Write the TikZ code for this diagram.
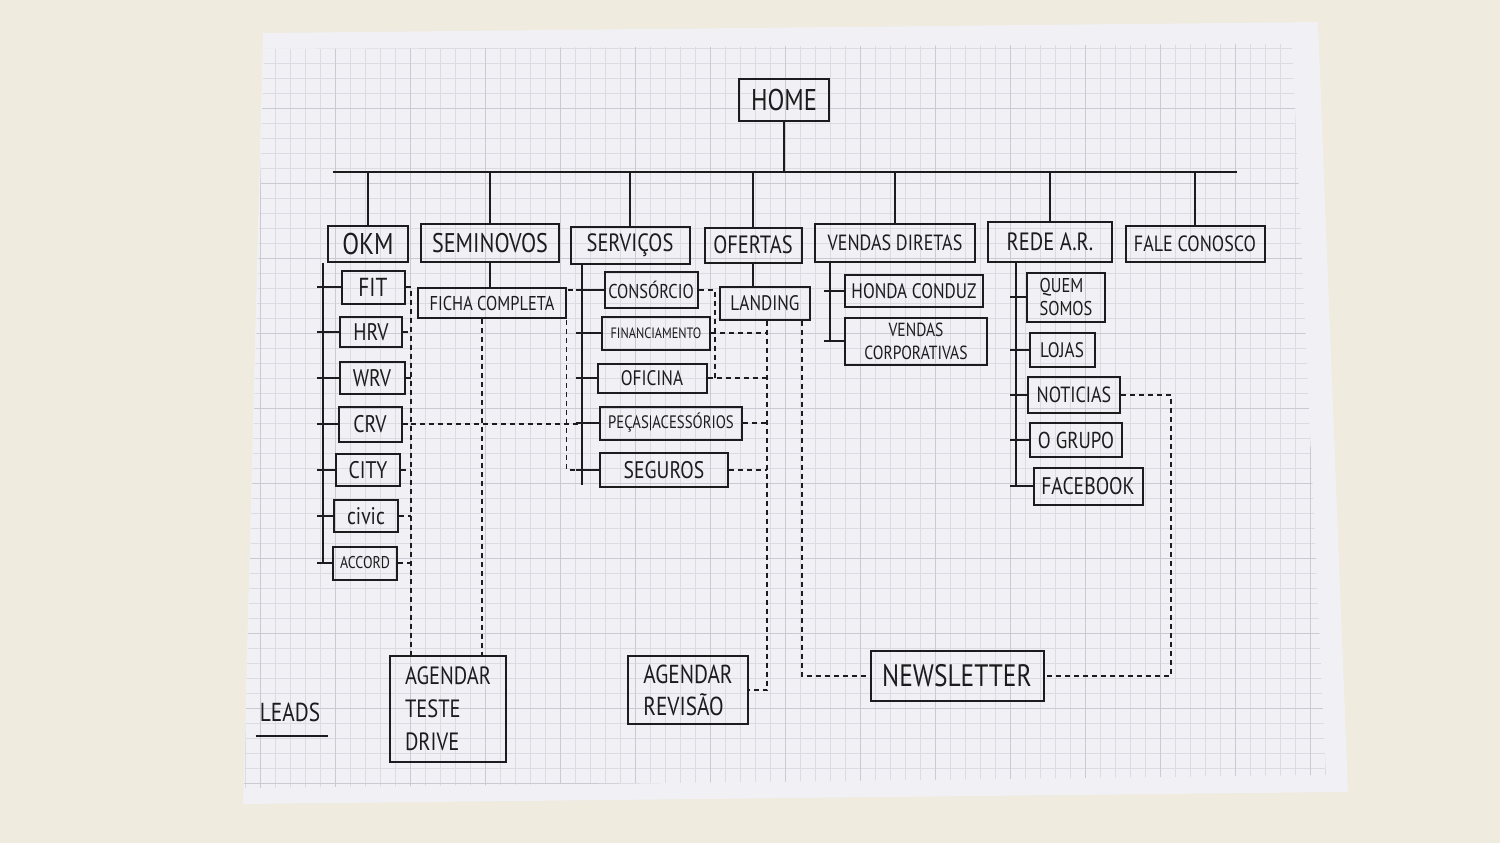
\documentclass[tikz,border=0pt]{standalone}
\usepackage{fontspec}
\newfontfamily\hand[FakeStretch=0.82]{PT Sans}
\usetikzlibrary{positioning}
\definecolor{ink}{RGB}{28,28,30}
\definecolor{desk}{RGB}{239,235,223}
\definecolor{paper}{RGB}{241,240,244}
\definecolor{gridminor}{RGB}{220,219,226}
\definecolor{gridmajor}{RGB}{203,202,210}
\tikzset{
  pg/.style={draw=ink, line width=2pt, inner sep=0pt, align=center, text=ink},
  sz/.style 2 args={minimum width=#1, minimum height=#2},
  fz/.style={font={\hand\fontsize{#1}{#1}\selectfont}},
  pen/.style={draw=ink, line width=2pt},
  dsh/.style={draw=ink, line width=1.5pt, dash pattern=on 5pt off 4pt},
}
\begin{document}
\begin{tikzpicture}[x=1pt, y=-1pt]
\useasboundingbox (0,0) rectangle (1500,843);
\fill[desk] (0,0) rectangle (1500,843);
\fill[paper] (263,33) -- (1318,22) -- (1348,792) -- (243,804) -- cycle;
\begin{scope}
\clip (264,49) -- (1292,44) -- (1326,775) -- (244,788) -- cycle;
\draw[gridminor, line width=0.7pt, shift={(335,108)}, step=15pt] (-100,-100) grid (1000,700);
\draw[gridmajor, line width=0.9pt, shift={(335,108)}, step=75pt] (-100,-100) grid (1000,700);
\end{scope}

\node[pg, fz=30, sz={90}{42}] (home) at (784,100) {HOME};
\node[pg, fz=30, sz={80}{36}] (okm) at (368,244) {OKM};
\node[pg, fz=27, sz={138}{38}] (semi) at (490,243) {SEMINOVOS};
\node[pg, fz=25, sz={119}{37}] (serv) at (630,245) {SERVIÇOS};
\node[pg, fz=25, sz={97}{35}] (ofer) at (753,245) {OFERTAS};
\node[pg, fz=22, sz={160}{38}] (vend) at (895,243) {VENDAS DIRETAS};
\node[pg, fz=25, sz={124}{40}] (rede) at (1050,242) {REDE A.R.};
\node[pg, fz=22, sz={139}{36}] (fale) at (1195,244) {FALE CONOSCO};

\node[pg, fz=26, sz={63}{33}] (fit) at (373,287) {FIT};
\node[pg, fz=24, sz={62}{30}] (hrv) at (371,332) {HRV};
\node[pg, fz=24, sz={65}{32}] (wrv) at (372,378) {WRV};
\node[pg, fz=24, sz={63}{35}] (crv) at (370,424) {CRV};
\node[pg, fz=24, sz={64}{32}] (city) at (368,470) {CITY};
\node[pg, fz=24, sz={64}{32}] (civic) at (366,516) {civic};
\node[pg, fz=17, sz={64}{33}] (accord) at (365,563) {ACCORD};

\node[pg, fz=20, sz={148}{30}] (ficha) at (492,303) {FICHA COMPLETA};

\node[pg, fz=20, sz={93}{36}] (cons) at (651,290) {CONSÓRCIO};
\node[pg, fz=15, sz={108}{33}] (fin) at (656,333) {FINANCIAMENTO};
\node[pg, fz=21, sz={109}{29}] (ofic) at (652,378) {OFICINA};
\node[pg, fz=18, sz={142}{33}] (pecas) at (671,423) {PEÇAS|ACESSÓRIOS};
\node[pg, fz=24, sz={128}{34}] (seg) at (664,470) {SEGUROS};
\node[pg, fz=21, sz={90}{33}] (land) at (765,303) {LANDING};

\node[pg, fz=21, sz={138}{32}] (honda) at (914,291) {HONDA CONDUZ};
\node[pg, fz=19, sz={142}{47}] (vcorp) at (916,341) {VENDAS\\[4pt]CORPORATIVAS};

\node[pg, fz=20, sz={78}{49}, align=left] (quem) at (1066,297) {QUEM\\[3pt]SOMOS};
\node[pg, fz=21, sz={65}{34}] (lojas) at (1062,350) {LOJAS};
\node[pg, fz=22, sz={92}{36}] (noti) at (1074,395) {NOTICIAS};
\node[pg, fz=23, sz={92}{34}] (grupo) at (1076,440) {O GRUPO};
\node[pg, fz=24, sz={109}{37}] (face) at (1088,486) {FACEBOOK};

\node[pg, fz=25, sz={116}{106}, align=left] (agtd) at (448,709) {AGENDAR\\[8pt]TESTE\\[8pt]DRIVE};
\node[pg, fz=26, sz={120}{68}, align=left] (agrev) at (688,690) {AGENDAR\\[6pt]REVISÃO};
\node[pg, fz=31, sz={173}{50}] (news) at (957,676) {NEWSLETTER};
\node[fz=26, text=ink, inner sep=0pt] (leads) at (290,712) {LEADS};
\draw[pen] ([shift={(-4pt,-14pt)}]leads.south west) -- ([shift={(8pt,-14pt)}]leads.south east);

\coordinate (busL) at (333,172);
\coordinate (busR) at (1237,172);
\draw[pen] (busL) -- (busR);
\draw[pen] (home.south) -- (home.south |- busL);
\foreach \n in {okm,semi,serv,ofer,vend,rede,fale}
  \draw[pen] (\n.north) -- (\n.north |- busL);

\coordinate (okmt) at ([xshift=-4pt]okm.south west);
\draw[pen] (okmt) -- (okmt |- accord.west);
\foreach \n in {fit,hrv,wrv,crv,city,civic,accord}
  \draw[pen] ([xshift=-6pt]\n.west -| okmt) -- (\n.west);

\draw[pen] (semi.south) -- (semi.south |- ficha.north);

\coordinate (svt) at ([xshift=12pt]serv.south west);
\draw[pen] (svt) -- ([yshift=-15pt]svt |- seg.west);
\foreach \n in {cons,fin,ofic,pecas,seg}
  \draw[pen] ([xshift=-6pt]\n.west -| svt) -- (\n.west);

\draw[pen] (ofer.south) -- (ofer.south |- land.north);

\coordinate (vdt) at ([xshift=16pt]vend.south west);
\draw[pen] (vdt) -- (vdt |- vcorp.west);
\foreach \n in {honda,vcorp}
  \draw[pen] ([xshift=-6pt]\n.west -| vdt) -- (\n.west);

\coordinate (rdt) at ([xshift=29pt]rede.south west);
\draw[pen] (rdt) -- (rdt |- face.west);
\foreach \n in {quem,lojas,noti,grupo,face}
  \draw[pen] ([xshift=-6pt]\n.west -| rdt) -- (\n.west);

% leads
\coordinate (tdx) at ([xshift=22pt]agtd.north west);
\draw[dsh] (fit.east) -| (tdx);
\foreach \n in {hrv,wrv,crv,city,civic,accord}
  \draw[dsh] (\n.east) -- (\n.east -| tdx);
\draw[dsh] ([xshift=-10pt]ficha.south) -- ([xshift=-10pt]ficha.south |- agtd.north);
\draw[dsh] (crv.east -| tdx) -- (crv.east -| svt);
\coordinate (svb) at ([xshift=-15pt]svt);
\draw[dsh] (cons.west -| svt) -- (cons.west -| svb) |- (seg.west -| svt);

\coordinate (lx1) at ([xshift=2pt]land.south);
\coordinate (lx2) at ([xshift=37pt]land.south);
\coordinate (cx) at ([xshift=-4pt]land.west);
\draw[dsh] (cons.east) -| (cx |- ofic.east);
\foreach \n in {fin,ofic,pecas,seg}
  \draw[dsh] (\n.east) -- (\n.east -| lx1);
\draw[dsh] (lx1) -- (lx1 |- agrev.east) -- (agrev.east);
\draw[dsh] (lx2) |- (news.west);
\coordinate (nx) at ([xshift=50pt]noti.east);
\draw[dsh] (noti.east) -| (nx |- news.east) -- (news.east);
\end{tikzpicture}
\end{document}
